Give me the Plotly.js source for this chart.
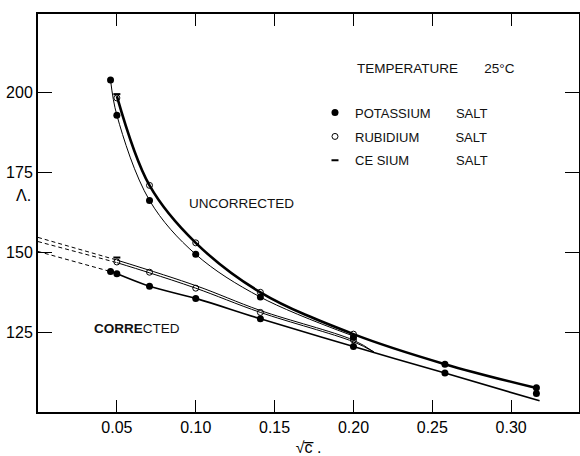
<!DOCTYPE html>
<html>
<head>
<meta charset="utf-8">
<script src="https://cdn.plot.ly/plotly-3.0.1.min.js"></script>
<style>html,body{margin:0;padding:0;background:#fff;}#chart{width:580px;height:456px;}</style>
</head>
<body>
<div id="chart"></div>
<script>
// --- data ---
// Measured points (sqrt c vs equivalent conductance)
var kUncorrX = [0.046, 0.05, 0.0707, 0.1, 0.141, 0.2, 0.258, 0.316];
var kUncorrY = [204, 193, 166.3, 149.4, 136, 123.4, 115, 107.6];
var kCorrX = [0.046, 0.05, 0.0707, 0.1, 0.141, 0.2, 0.258, 0.316];
var kCorrY = [144, 143.3, 139.4, 135.6, 129.2, 120.5, 112.2, 105.8];
var rbUncorrX = [0.05, 0.0707, 0.1, 0.141, 0.2];
var rbUncorrY = [198.4, 171, 153, 137.5, 124.4];
var rbCorrX = [0.05, 0.0707, 0.1, 0.141, 0.2];
var rbCorrY = [147, 143.8, 138.8, 131.2, 122.6];
var csUncorrX = [0.05];
var csUncorrY = [199.6];
var csCorrX = [0.05];
var csCorrY = [148.4];

// Drawn curves
var uncorrThickX = [0.05, 0.0707, 0.1, 0.141, 0.2, 0.258, 0.316];
var uncorrThickY = [199, 171, 153, 137.5, 124.4, 115, 107.5];
var uncorrThinX = [0.046, 0.05, 0.0707, 0.1, 0.141, 0.2];
var uncorrThinY = [204, 193, 166.3, 149.4, 136, 123.8];
var corrKX = [0.046, 0.05, 0.0707, 0.1, 0.141, 0.2, 0.258, 0.318];
var corrKY = [144, 143.3, 139.4, 135.6, 129.2, 120.5, 112.2, 103.5];
var corrRbX = [0.05, 0.0707, 0.1, 0.141, 0.2, 0.213];
var corrRbY = [146.8, 143.6, 138.8, 131.2, 122, 118.8];
var corrCsX = [0.05, 0.1, 0.141, 0.2, 0.213];
var corrCsY = [147.6, 139.6, 131.8, 122.5, 118.8];
var dashCsX = [0, 0.05];
var dashCsY = [154.7, 147.6];
var dashRbX = [0, 0.05];
var dashRbY = [153.4, 146.8];
var dashKX = [0, 0.046];
var dashKY = [150.3, 144];

var xTicks = [0.05, 0.10, 0.15, 0.20, 0.25, 0.30];
var xTickText = ['0.05', '0.10', '0.15', '0.20', '0.25', '0.30'];
var yTicks = [125, 150, 175, 200];
var yTickText = ['125', '150', '175', '200'];
var legendNames = ['POTASSIUM\u00a0\u00a0\u00a0\u00a0\u00a0\u00a0\u00a0SALT',
                   'RUBIDIUM\u00a0\u00a0\u00a0\u00a0\u00a0\u00a0\u00a0\u00a0\u00a0\u00a0SALT',
                   'CE SIUM\u00a0\u00a0\u00a0\u00a0\u00a0\u00a0\u00a0\u00a0\u00a0\u00a0\u00a0\u00a0\u00a0SALT'];

function line(x, y, w, dash) {
  return {x: x, y: y, mode: 'lines', showlegend: false, hoverinfo: 'skip',
          line: {color: '#000', width: w, shape: 'spline', smoothing: 1, dash: dash || 'solid'}};
}
function join(a, b) { return a.concat([null], b); }

var traces = [
  line(uncorrThickX, uncorrThickY, 2.6),
  line(uncorrThinX, uncorrThinY, 1),
  line(corrKX, corrKY, 1.6),
  line(corrRbX, corrRbY, 1),
  line(corrCsX, corrCsY, 1),
  line(dashCsX, dashCsY, 1, '4px,3px'),
  line(dashRbX, dashRbY, 1, '4px,3px'),
  line(dashKX, dashKY, 1, '4px,3px'),
  {x: join(kUncorrX, kCorrX), y: join(kUncorrY, kCorrY), mode: 'markers', name: legendNames[0],
   legendgroup: 'k', marker: {symbol: 'circle', size: 7, color: '#000'}},
  {x: join(rbUncorrX, rbCorrX), y: join(rbUncorrY, rbCorrY), mode: 'markers', name: legendNames[1],
   legendgroup: 'rb', marker: {symbol: 'circle-open', size: 6, color: '#000', line: {width: 1, color: '#000'}}},
  {x: join(csUncorrX, csCorrX), y: join(csUncorrY, csCorrY), mode: 'markers', name: legendNames[2],
   legendgroup: 'cs', marker: {symbol: 'line-ew', size: 5, color: '#000', line: {width: 2, color: '#000'}}}
];

var font = "'Liberation Sans', Arial, sans-serif";
var layout = {
  width: 580, height: 456,
  margin: {l: 38, r: 1, t: 14, b: 44},
  paper_bgcolor: '#fff', plot_bgcolor: '#fff',
  font: {family: font, color: '#000', size: 13},
  showlegend: true,
  legend: {x: 0.512, y: 0.79, xanchor: 'left', yanchor: 'top', bgcolor: 'rgba(0,0,0,0)',
           font: {family: font, size: 13, color: '#111'}, tracegroupgap: 4, traceorder: 'grouped',
           itemwidth: 30},
  xaxis: {range: [0, 0.343], tickvals: xTicks, ticktext: xTickText, ticks: 'inside', ticklen: 12,
          tickwidth: 1.2, tickcolor: '#000', showline: true, linewidth: 2, linecolor: '#000',
          mirror: 'ticks', showgrid: false, zeroline: false,
          tickfont: {family: font, size: 16, color: '#000'},
          title: {text: '\u221Ac\u0305 .', font: {family: font, size: 16}, standoff: 8}},
  yaxis: {range: [100, 224.7], tickvals: yTicks, ticktext: yTickText, ticks: 'inside', ticklen: 14,
          tickwidth: 1.2, tickcolor: '#000', showline: true, linewidth: 2, linecolor: '#000',
          mirror: 'ticks', showgrid: false, zeroline: false,
          tickfont: {family: font, size: 16, color: '#000'}},
  annotations: [
    {xref: 'paper', yref: 'paper', x: 0.586, y: 0.864, xanchor: 'left', yanchor: 'middle', showarrow: false,
     text: 'TEMPERATURE\u00a0\u00a0\u00a0\u00a0\u00a0\u00a0\u00a025\u00b0C', font: {family: font, size: 13.5, color: '#111'}},
    {xref: 'paper', yref: 'paper', x: 0.275, y: 0.525, xanchor: 'left', yanchor: 'middle', showarrow: false,
     text: 'UNCORRECTED', font: {family: font, size: 13.5, color: '#111'}},
    {xref: 'paper', yref: 'paper', x: 0.0998, y: 0.211, xanchor: 'left', yanchor: 'middle', showarrow: false,
     text: '<b>CORRE</b>CTED', font: {family: font, size: 13.5, color: '#111'}},
    {xref: 'paper', yref: 'paper', x: -0.026, y: 0.545, xanchor: 'center', yanchor: 'middle', showarrow: false,
     text: '\u039B.', font: {family: font, size: 16, color: '#000'}}
  ]
};

Plotly.newPlot('chart', traces, layout, {displayModeBar: false, staticPlot: true});
</script>
</body>
</html>
